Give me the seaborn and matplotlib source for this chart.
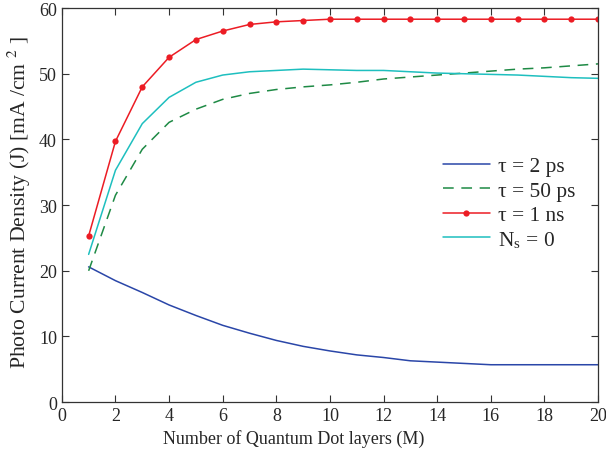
import matplotlib
matplotlib.use("Agg")
import matplotlib.pyplot as plt
import seaborn as sns
import pandas as pd

# Values
layers = list(range(1, 21))
tau_2ps = [20.6, 18.5, 16.7, 14.8, 13.2, 11.7, 10.5, 9.4, 8.5, 7.8,
           7.2, 6.8, 6.3, 6.1, 5.9, 5.7, 5.7, 5.7, 5.7, 5.7]
tau_50ps = [20.0, 31.5, 38.5, 42.6, 44.6, 46.1, 47.0, 47.6, 48.0, 48.3,
            48.7, 49.2, 49.5, 49.8, 50.1, 50.4, 50.7, 50.9, 51.2, 51.5]
tau_1ns = [25.3, 39.7, 48.0, 52.5, 55.2, 56.5, 57.5, 57.9, 58.1, 58.3,
           58.3, 58.3, 58.3, 58.3, 58.3, 58.3, 58.3, 58.3, 58.3, 58.3]
ns_zero = [22.5, 35.3, 42.4, 46.4, 48.7, 49.8, 50.3, 50.5, 50.7, 50.6,
           50.5, 50.5, 50.3, 50.1, 50.0, 49.9, 49.8, 49.6, 49.4, 49.3]

labels = ["τ = 2 ps", "τ = 50 ps", "τ = 1 ns", r"N$_\mathregular{s}$ = 0"]

df = pd.DataFrame({"M": layers, labels[0]: tau_2ps, labels[1]: tau_50ps,
                   labels[2]: tau_1ns, labels[3]: ns_zero})

sns.set_style("ticks")
plt.rcParams["font.family"] = ["Liberation Serif", "DejaVu Serif"]
plt.rcParams["mathtext.fontset"] = "stix"
plt.rcParams["xtick.direction"] = "in"
plt.rcParams["ytick.direction"] = "in"

fig = plt.figure(figsize=(6.06, 4.52), dpi=100)
ax = fig.add_axes([0.102, 0.108, 0.885, 0.872])

sns.lineplot(data=df, x="M", y=labels[0], ax=ax, color="#2a46a8", lw=1.1, label=labels[0])
sns.lineplot(data=df, x="M", y=labels[1], ax=ax, color="#1e8a45", lw=1.1, label=labels[1],
             linestyle=(0, (7, 5)))
sns.lineplot(data=df, x="M", y=labels[2], ax=ax, color="#ec1c24", lw=1.1, label=labels[2],
             marker="o", markersize=4.5, markeredgewidth=0)
sns.lineplot(data=df, x="M", y=labels[3], ax=ax, color="#1ebfbf", lw=1.1, label=labels[3])

ax.set_xlim(0, 20)
ax.set_ylim(0, 60)
ax.set_xticks(range(0, 21, 2))
ax.set_yticks(range(0, 61, 10))
ax.tick_params(labelsize=13, top=True, right=True, length=5, width=0.8, color="#333333")
for s in ax.spines.values():
    s.set_color("#333333")
    s.set_linewidth(0.9)

ax.set_xlabel("Number of Quantum Dot layers (M)", fontsize=13)
ax.xaxis.set_label_coords(0.433, -0.068)
ax.set_ylabel(r"Photo Current Density (J) [mA /cm $^2$ ]", fontsize=15.6)
ax.yaxis.set_label_coords(-0.054, 0.508)

ax.legend(loc="upper left", bbox_to_anchor=(0.694, 0.645), frameon=False, fontsize=15.4,
          handlelength=2.2, labelspacing=0.2, handletextpad=0.4, borderaxespad=0)

fig.savefig("out.png", dpi=100)
